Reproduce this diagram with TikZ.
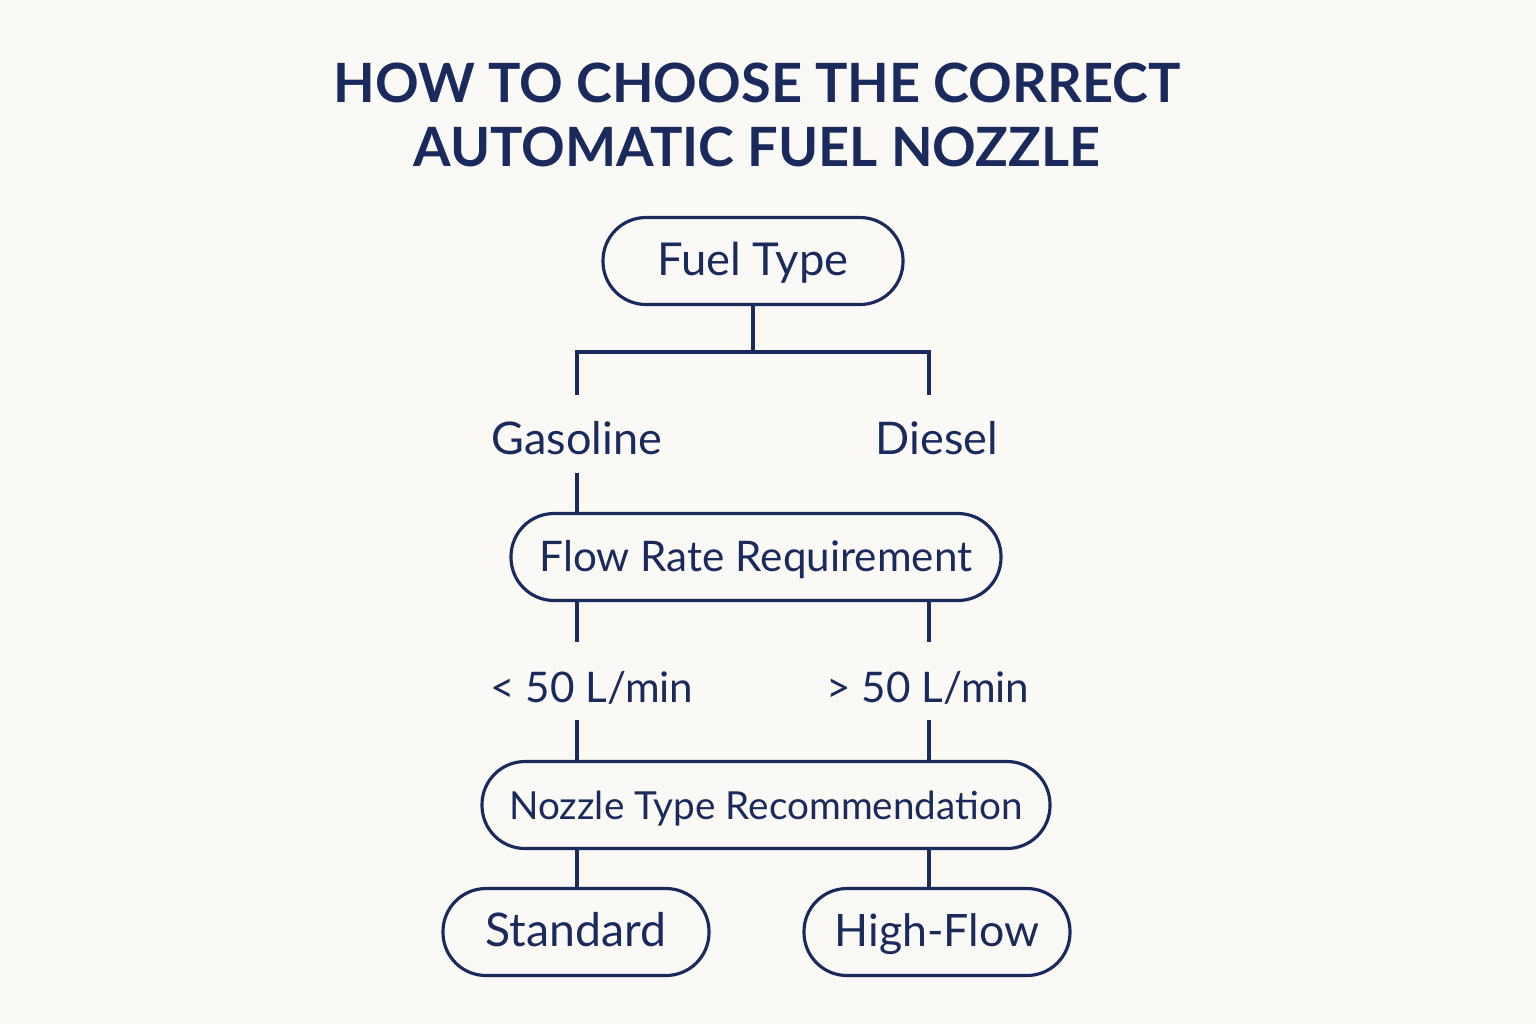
\documentclass[tikz,border=0pt]{standalone}
\usepackage{fontspec}
\setmainfont{Lato}
\definecolor{navy}{HTML}{1B2A5C}
\definecolor{paper}{HTML}{FBF9F5}
\tikzset{
  pill/.style={draw=navy, line width=0.9pt, rounded corners=0.43cm, minimum height=0.87cm, inner sep=0pt, text height=0.85em, text depth=0pt, text=navy},
  lbl/.style={text=navy, inner sep=0pt, text height=0.85em, text depth=0pt, font=\fontsize{12.8}{15}\selectfont},
  heading/.style={text=navy, align=center, font=\fontsize{15.4}{18.2}\selectfont\bfseries},
  link/.style={draw=navy, line width=0.9pt}
}
\begin{document}
\begin{tikzpicture}
        \fill[paper] (0,0) rectangle (15.36,-10.24);
        \useasboundingbox (0,0) rectangle (15.36,-10.24);

        \node[heading] (head) at (7.57,-1.15) {HOW TO CHOOSE THE CORRECT\\AUTOMATIC FUEL NOZZLE};

        % fuel type
        \node[pill, minimum width=3cm, font=\fontsize{12.9}{15}\selectfont] (fuel) at (7.53,-2.61) {Fuel Type};
        \coordinate (split) at (7.53,-3.52);
        \coordinate (gastop) at (5.77,-3.95);
        \coordinate (dsltop) at (9.29,-3.95);
        \draw[link] (fuel.south) -- (split);
        \draw[link] (gastop) |- (split) -| (dsltop);
        \node[lbl] (gas) at (5.77,-4.40) {Gasoline};
        \node[lbl] (dsl) at (9.37,-4.40) {Diesel};

        % flow rate
        \node[pill, minimum width=4.9cm, font=\fontsize{12}{15}\selectfont] (flow) at (7.56,-5.57) {Flow Rate Requirement};
        \coordinate (gasbot) at (5.77,-4.73);
        \draw[link] (gasbot) -- (gasbot |- flow.north);
        \coordinate (lttop) at (5.77,-6.42);
        \coordinate (gttop) at (9.29,-6.42);
        \draw[link] (lttop |- flow.south) -- (lttop);
        \draw[link] (gttop |- flow.south) -- (gttop);
        \node[lbl, font=\fontsize{12}{15}\selectfont] (lt) at (5.92,-6.88) {< 50 L/min};
        \node[lbl, font=\fontsize{12}{15}\selectfont] (gt) at (9.28,-6.88) {> 50 L/min};

        % nozzle type
        \node[pill, minimum width=5.68cm, font=\fontsize{11}{15}\selectfont] (nozzle) at (7.66,-8.05) {Nozzle Type Recommendation};
        \coordinate (ltbot) at (5.77,-7.20);
        \coordinate (gtbot) at (9.29,-7.20);
        \draw[link] (ltbot) -- (ltbot |- nozzle.north);
        \draw[link] (gtbot) -- (gtbot |- nozzle.north);

        \node[pill, minimum width=2.66cm, font=\fontsize{13.2}{15}\selectfont] (std) at (5.76,-9.32) {Standard};
        \node[pill, minimum width=2.66cm, font=\fontsize{12.7}{15}\selectfont] (high) at (9.37,-9.32) {High-Flow};
        \draw[link] (ltbot |- nozzle.south) -- (ltbot |- std.north);
        \draw[link] (gtbot |- nozzle.south) -- (gtbot |- high.north);
\end{tikzpicture}
\end{document}
